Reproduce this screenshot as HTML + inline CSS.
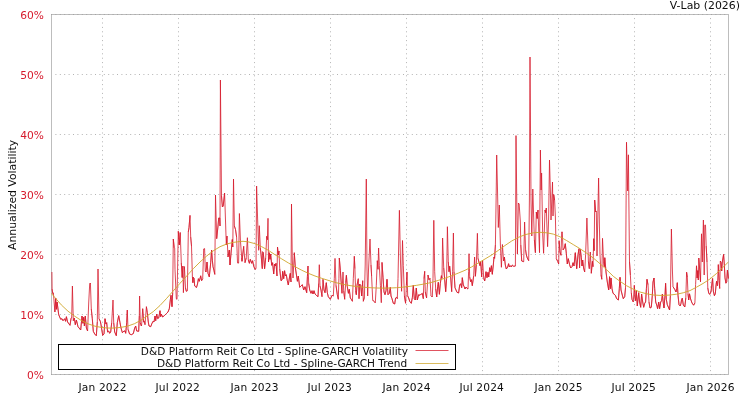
<!DOCTYPE html>
<html lang="en"><head><meta charset="utf-8"><title>V-Lab Spline-GARCH Volatility</title>
<style>html,body{margin:0;padding:0;background:#fff}svg{display:block;will-change:transform}text{font-family:"DejaVu Sans", "Liberation Sans", sans-serif;font-size:10.67px}</style></head><body>
<svg width="750" height="400" viewBox="0 0 750 400">
<rect x="0" y="0" width="750" height="400" fill="#ffffff"/>
<g stroke="#b4b4b4" stroke-width="1" stroke-dasharray="1 3.4" fill="none">
<line x1="51" y1="74.5" x2="728" y2="74.5"/>
<line x1="51" y1="134.5" x2="728" y2="134.5"/>
<line x1="51" y1="194.5" x2="728" y2="194.5"/>
<line x1="51" y1="254.5" x2="728" y2="254.5"/>
<line x1="51" y1="314.5" x2="728" y2="314.5"/>
<line x1="102.5" y1="18.1" x2="102.5" y2="374"/>
<line x1="178.5" y1="18.1" x2="178.5" y2="374"/>
<line x1="254.5" y1="18.1" x2="254.5" y2="374"/>
<line x1="330.5" y1="18.1" x2="330.5" y2="374"/>
<line x1="406.5" y1="18.1" x2="406.5" y2="374"/>
<line x1="482.5" y1="18.1" x2="482.5" y2="374"/>
<line x1="558.5" y1="18.1" x2="558.5" y2="374"/>
<line x1="634.5" y1="18.1" x2="634.5" y2="374"/>
<line x1="710.5" y1="18.1" x2="710.5" y2="374"/>
</g>
<rect x="51.5" y="14.5" width="677" height="360" fill="none" stroke="#bdbdbd" stroke-width="1" shape-rendering="crispEdges"/>
<g stroke="#a4a4a4" stroke-width="1" stroke-dasharray="1 3.4" fill="none"><line x1="51" y1="14.5" x2="728" y2="14.5"/><line x1="51" y1="374.5" x2="728" y2="374.5"/></g>
<clipPath id="c"><rect x="51" y="14" width="678" height="361"/></clipPath>
<g clip-path="url(#c)" fill="none" stroke-linejoin="bevel" stroke-linecap="butt">
<polyline stroke="#d6192b" stroke-width="0.8" points="51.9,272.0 52.1,289.0 52.7,293.5 53.4,293.0 54.9,312.0 55.7,298.0 56.4,309.3 57.1,302.0 58.7,314.7 60.7,319.3 62.0,318.7 63.0,320.7 64.7,318.7 65.6,321.3 66.4,316.7 67.6,322.0 70.0,325.3 71.0,318.7 71.7,317.3 72.4,286.0 73.3,320.7 74.3,318.0 75.3,324.7 76.4,320.0 78.0,326.7 80.7,330.0 82.0,316.0 82.9,323.3 83.7,317.3 84.4,326.0 85.3,316.0 86.4,328.0 87.6,331.0 88.7,303.0 89.7,284.0 90.4,283.0 91.3,309.0 92.3,318.7 93.3,331.3 94.7,334.0 96.3,335.7 97.3,322.0 98.0,269.0 99.0,318.7 100.3,321.3 101.0,324.7 102.7,335.3 104.0,334.0 105.0,318.7 106.0,324.0 106.7,322.7 107.6,332.0 108.7,331.0 109.6,333.3 110.7,332.0 111.7,322.7 113.0,300.0 113.7,322.7 114.7,332.0 116.3,335.7 117.3,322.7 118.7,315.7 120.0,322.7 121.0,328.0 122.4,332.7 124.0,331.0 125.0,331.0 125.7,333.3 126.7,322.7 127.3,310.0 128.0,329.3 129.6,334.0 131.3,334.7 133.3,333.6 134.7,328.0 135.7,326.0 136.7,331.0 138.7,331.3 139.3,316.0 139.6,296.0 140.3,322.7 141.3,326.0 141.6,325.3 142.7,308.7 143.6,322.0 144.4,321.3 145.0,324.7 146.4,306.7 147.3,312.7 148.3,322.0 149.0,326.0 150.7,326.7 152.0,323.3 153.0,321.3 154.0,322.0 155.0,316.0 155.7,320.7 156.7,314.0 157.7,318.7 158.7,318.0 160.0,310.7 160.7,316.7 161.3,314.0 162.7,317.0 164.7,315.3 166.7,313.3 168.0,312.0 169.3,308.7 170.4,299.3 171.0,295.3 172.0,306.7 172.7,292.7 173.3,239.0 174.2,247.5 174.7,248.0 175.0,269.3 176.3,298.7 177.0,299.3 178.3,231.3 179.3,245.0 180.2,232.5 181.3,263.0 182.2,277.5 182.9,266.0 183.4,292.7 184.4,266.5 185.5,288.0 186.3,291.3 187.4,290.7 188.3,232.0 189.0,227.5 190.0,215.4 190.7,237.0 191.5,246.0 192.4,276.5 192.9,282.7 193.3,277.3 194.0,278.0 194.7,286.0 196.5,287.5 197.5,284.0 198.4,278.7 199.3,281.3 200.7,275.8 201.6,280.7 202.7,278.7 203.7,249.0 204.6,248.7 205.3,271.0 206.0,272.0 207.0,262.0 208.0,273.3 209.3,276.9 210.7,262.7 211.6,250.0 212.4,260.7 213.0,266.7 214.0,270.7 214.8,274.4 215.5,195.0 216.7,238.7 218.0,226.0 218.7,218.0 219.7,218.0 220.0,226.0 220.4,80.0 221.5,196.0 222.4,207.0 223.2,206.0 224.6,193.0 226.3,245.0 227.0,236.0 228.0,257.0 229.3,250.0 230.0,265.0 231.3,250.0 232.3,239.5 232.8,247.0 233.5,179.0 234.4,226.0 235.5,229.5 236.6,237.0 237.5,262.8 238.6,263.0 239.4,213.5 240.4,240.0 241.7,258.0 242.0,261.3 243.7,246.3 245.0,262.7 246.2,258.0 247.4,237.7 248.3,260.0 249.4,263.3 250.3,259.3 251.7,263.3 252.6,260.7 253.7,266.0 255.0,269.3 256.0,268.7 256.6,186.0 257.8,225.0 258.7,250.3 259.3,225.7 260.3,247.7 261.0,254.0 262.3,268.7 262.6,251.7 263.3,252.7 264.6,268.7 265.7,258.0 266.7,236.3 267.4,239.7 268.0,218.3 268.5,262.0 269.3,252.7 270.0,259.3 270.7,254.0 271.7,265.3 272.6,262.7 273.7,274.0 274.6,264.0 275.4,266.0 276.0,263.3 277.0,276.0 277.5,247.0 278.3,255.0 279.0,251.0 279.7,268.7 281.0,280.7 282.0,280.0 282.7,271.3 283.7,278.7 284.6,270.7 285.4,276.0 286.3,274.7 287.3,280.7 288.3,285.0 289.7,276.0 290.3,273.3 291.0,282.0 291.5,204.0 292.3,260.0 293.0,278.0 294.3,252.7 295.3,267.3 296.3,274.0 297.4,281.3 298.3,276.0 299.7,287.3 301.0,286.0 302.3,284.7 303.7,290.0 305.0,286.7 306.7,292.7 307.4,276.7 308.0,266.0 308.7,283.3 309.7,290.0 311.0,293.3 312.0,290.7 313.0,294.0 314.0,290.7 315.0,294.0 316.3,295.3 318.0,296.7 318.7,283.3 319.3,264.7 320.0,286.0 321.0,290.0 322.0,296.7 323.0,279.3 324.0,290.0 325.0,292.7 326.3,282.7 327.3,292.7 328.3,296.7 330.3,299.3 332.0,295.3 333.3,296.0 334.3,278.7 335.0,258.4 336.0,285.3 337.3,294.7 338.3,299.3 338.9,278.7 339.3,258.0 340.4,270.7 341.0,280.0 342.0,293.3 343.0,272.0 343.7,290.7 344.7,299.3 345.7,282.7 346.4,275.3 347.3,286.7 348.4,293.3 349.3,289.3 350.3,298.0 351.3,299.3 352.4,301.3 353.3,278.7 354.3,256.3 354.9,268.7 355.6,290.7 356.3,294.7 357.0,285.3 358.3,278.7 359.0,298.7 359.6,284.0 360.7,285.3 361.7,296.0 362.7,280.7 363.3,301.3 364.4,297.3 365.2,265.0 366.3,179.0 367.0,270.0 367.7,296.0 368.5,270.0 370.0,239.0 371.0,265.0 371.6,276.0 372.7,300.0 373.7,301.3 374.7,302.0 375.3,302.7 376.3,285.3 377.3,260.7 378.0,269.3 378.6,248.0 379.3,265.3 380.4,285.3 381.3,302.7 382.0,262.4 383.0,277.3 384.0,292.0 385.0,294.7 386.0,290.7 387.0,279.3 388.0,294.7 389.3,293.3 390.3,287.3 391.0,296.0 392.0,298.7 393.3,303.3 394.7,304.0 395.6,298.0 396.7,297.3 397.3,298.7 398.0,278.7 399.4,210.3 400.5,262.0 401.6,291.3 402.5,240.5 403.3,265.3 404.4,296.0 405.6,303.3 406.4,285.3 407.0,272.0 407.7,296.0 408.7,298.0 409.7,301.3 411.3,303.3 412.4,297.3 413.3,285.3 414.3,298.7 415.3,300.0 416.3,288.0 417.3,300.0 418.7,294.7 420.0,295.3 421.3,294.0 422.3,293.3 423.3,298.7 424.0,278.7 424.7,271.3 425.3,292.0 426.6,298.0 428.0,275.0 429.0,279.7 430.0,278.3 431.0,295.7 432.3,297.0 433.0,278.3 433.8,220.3 434.7,271.7 435.7,289.0 436.7,297.0 437.7,286.3 438.3,282.3 439.4,294.3 440.3,283.7 441.4,275.7 442.0,278.3 442.6,238.0 443.7,267.7 444.7,279.7 445.7,291.7 446.6,278.3 447.4,226.7 448.3,261.7 449.0,271.7 449.7,266.3 450.6,275.7 451.7,291.7 452.6,271.7 453.4,233.0 454.0,271.7 455.0,287.7 457.0,292.3 458.6,293.0 459.7,285.0 460.7,283.7 461.7,287.7 462.3,277.7 463.3,285.0 464.0,286.3 465.0,289.0 466.0,287.0 467.0,288.3 468.0,289.0 468.6,271.7 469.0,253.7 469.7,277.0 470.6,281.7 471.4,279.7 472.3,285.7 473.7,275.7 474.6,257.0 475.4,276.3 476.3,265.0 477.4,233.3 478.0,258.3 479.0,262.3 480.0,265.7 480.7,261.7 481.7,277.0 482.6,260.3 483.7,278.3 484.7,281.0 486.0,271.7 487.0,277.7 488.0,272.3 488.7,277.0 489.7,267.7 490.6,271.7 491.4,265.7 492.3,274.3 493.3,265.0 494.0,257.0 494.6,258.3 495.4,245.0 496.1,200.0 496.7,155.0 497.5,190.0 498.3,227.5 499.3,205.0 500.4,245.0 501.4,267.3 502.4,244.5 503.6,261.0 504.4,257.0 505.3,265.0 506.3,269.0 507.7,267.0 508.6,263.7 509.4,267.0 510.3,265.7 511.4,267.0 512.3,265.0 513.7,266.3 515.4,266.0 516.0,135.6 517.4,254.0 518.4,203.0 519.2,204.5 520.3,221.0 520.8,245.0 521.7,261.0 523.7,261.7 524.6,222.0 525.6,250.0 526.3,254.7 527.3,258.0 528.7,260.7 529.4,200.0 530.0,57.0 531.0,200.0 531.8,236.0 532.8,189.0 533.6,215.0 534.4,240.0 535.4,252.7 536.3,212.0 537.2,218.5 538.0,210.0 539.5,252.7 540.4,150.0 541.1,190.0 541.6,173.0 542.7,235.0 543.6,253.3 545.0,210.0 545.7,212.7 546.3,208.0 547.6,246.7 548.6,220.0 549.5,160.0 550.6,200.0 551.0,220.0 552.5,182.0 553.0,216.0 553.7,194.5 554.6,200.0 555.4,217.0 556.3,258.7 557.7,261.3 558.7,264.0 559.1,240.7 560.0,252.0 561.0,255.3 561.7,232.0 562.3,232.0 563.0,250.0 564.3,248.0 565.3,243.7 566.3,253.3 567.3,264.0 568.3,258.7 569.6,264.7 570.7,268.0 572.0,266.7 573.0,262.7 574.0,266.0 575.3,252.7 576.7,268.7 578.0,254.7 579.0,248.7 579.6,268.0 580.3,249.3 581.3,257.3 582.0,266.0 582.7,260.0 583.6,268.0 584.7,272.0 585.6,254.7 586.9,218.0 587.6,236.0 588.4,261.3 589.3,268.7 590.3,252.0 591.3,273.3 592.4,261.3 593.0,266.7 593.7,238.7 594.2,250.7 594.7,200.0 595.7,212.0 596.3,211.3 597.0,256.0 598.6,178.0 599.4,225.0 600.0,254.7 601.0,274.7 601.8,279.3 602.5,238.3 603.6,261.3 604.3,266.7 604.8,257.7 606.0,272.0 607.3,282.0 608.7,290.0 609.6,276.7 610.4,288.7 611.0,278.0 612.0,288.7 613.0,293.3 614.0,294.0 615.3,295.3 616.7,298.7 618.4,300.0 619.3,288.7 620.0,277.3 621.0,290.0 622.0,294.0 623.3,298.7 624.7,296.7 625.5,288.0 626.5,142.2 627.7,191.0 628.4,154.8 629.5,262.0 630.4,275.3 631.3,292.7 632.0,299.3 633.3,302.0 634.3,285.3 635.0,298.0 635.6,300.7 636.3,290.7 637.3,306.0 638.7,292.7 639.6,302.0 640.7,307.3 641.6,294.0 642.7,302.0 643.7,307.3 644.7,303.3 645.6,302.0 646.4,288.7 647.0,279.3 648.0,284.7 649.0,302.0 650.0,308.0 651.3,307.3 652.3,295.3 653.0,282.0 654.0,278.0 654.7,288.7 655.7,302.0 657.0,306.0 657.6,308.7 658.7,302.0 659.6,308.7 660.7,302.0 661.6,300.7 662.4,294.0 663.3,303.3 664.0,308.0 665.0,295.3 665.6,283.3 666.3,299.3 667.3,304.7 668.7,308.0 669.6,310.0 670.4,295.3 671.4,229.0 672.4,270.0 673.0,286.7 674.7,289.3 676.0,292.0 676.7,288.7 677.3,282.7 678.0,295.3 679.0,304.7 680.2,306.0 681.0,303.3 681.6,299.3 682.3,298.2 683.3,305.0 684.8,307.0 685.8,298.0 686.6,272.2 687.3,277.0 688.0,294.0 688.7,300.0 689.5,293.8 690.6,299.0 692.0,303.0 693.6,305.2 694.9,303.0 695.6,284.5 696.5,265.8 697.2,278.0 697.8,270.6 698.3,280.0 698.8,258.0 699.8,271.0 700.5,281.8 701.5,233.8 702.3,262.0 703.4,220.0 704.2,275.0 704.8,225.2 705.5,225.2 706.2,246.0 707.0,262.0 707.8,288.0 708.7,293.0 709.7,294.4 711.0,291.8 712.1,281.8 712.6,278.5 713.3,291.0 714.4,295.7 715.3,293.8 716.1,284.5 716.6,281.2 717.4,285.8 718.3,264.6 719.0,280.5 719.7,288.5 720.3,261.0 721.0,262.5 721.7,271.0 722.3,262.0 723.6,254.4 724.4,266.0 725.0,277.9 725.9,283.2 726.7,281.8 727.4,270.0 727.9,273.9 728.4,278.5"/>
<path stroke="#d6192b" stroke-width="0.6" d="M52.1 289.0L52.7 293.5L53.4 293.0M54.9 312.0L55.7 298.0L56.4 309.3L57.1 302.0L58.7 314.7L60.7 319.3L62.0 318.7L63.0 320.7L64.7 318.7L65.6 321.3L66.4 316.7L67.6 322.0L70.0 325.3L71.0 318.7L71.7 317.3M73.3 320.7L74.3 318.0L75.3 324.7L76.4 320.0L78.0 326.7L80.7 330.0L82.0 316.0L82.9 323.3L83.7 317.3L84.4 326.0L85.3 316.0L86.4 328.0L87.6 331.0M89.7 284.0L90.4 283.0M91.3 309.0L92.3 318.7L93.3 331.3L94.7 334.0L96.3 335.7L97.3 322.0M99.0 318.7L100.3 321.3L101.0 324.7L102.7 335.3L104.0 334.0L105.0 318.7L106.0 324.0L106.7 322.7L107.6 332.0L108.7 331.0L109.6 333.3L110.7 332.0L111.7 322.7M113.7 322.7L114.7 332.0L116.3 335.7L117.3 322.7L118.7 315.7L120.0 322.7L121.0 328.0L122.4 332.7L124.0 331.0L125.0 331.0L125.7 333.3L126.7 322.7L127.3 310.0M128.0 329.3L129.6 334.0L131.3 334.7L133.3 333.6L134.7 328.0L135.7 326.0L136.7 331.0L138.7 331.3L139.3 316.0M140.3 322.7L141.3 326.0L141.6 325.3M142.7 308.7L143.6 322.0L144.4 321.3L145.0 324.7M146.4 306.7L147.3 312.7L148.3 322.0L149.0 326.0L150.7 326.7L152.0 323.3L153.0 321.3L154.0 322.0L155.0 316.0L155.7 320.7L156.7 314.0L157.7 318.7L158.7 318.0L160.0 310.7L160.7 316.7L161.3 314.0L162.7 317.0L164.7 315.3L166.7 313.3L168.0 312.0L169.3 308.7L170.4 299.3L171.0 295.3L172.0 306.7L172.7 292.7M173.3 239.0L174.2 247.5L174.7 248.0M176.3 298.7L177.0 299.3M178.3 231.3L179.3 245.0L180.2 232.5M181.3 263.0L182.2 277.5L182.9 266.0M185.5 288.0L186.3 291.3L187.4 290.7M188.3 232.0L189.0 227.5L190.0 215.4M190.7 237.0L191.5 246.0M192.4 276.5L192.9 282.7L193.3 277.3L194.0 278.0L194.7 286.0L196.5 287.5L197.5 284.0L198.4 278.7L199.3 281.3L200.7 275.8L201.6 280.7L202.7 278.7M203.7 249.0L204.6 248.7M205.3 271.0L206.0 272.0L207.0 262.0L208.0 273.3L209.3 276.9L210.7 262.7L211.6 250.0L212.4 260.7L213.0 266.7L214.0 270.7L214.8 274.4M216.7 238.7L218.0 226.0L218.7 218.0L219.7 218.0L220.0 226.0M221.5 196.0L222.4 207.0L223.2 206.0L224.6 193.0M226.3 245.0L227.0 236.0M228.0 257.0L229.3 250.0L230.0 265.0L231.3 250.0L232.3 239.5L232.8 247.0M234.4 226.0L235.5 229.5L236.6 237.0M237.5 262.8L238.6 263.0M241.7 258.0L242.0 261.3L243.7 246.3M245.0 262.7L246.2 258.0M248.3 260.0L249.4 263.3L250.3 259.3L251.7 263.3L252.6 260.7L253.7 266.0L255.0 269.3L256.0 268.7M260.3 247.7L261.0 254.0L262.3 268.7M262.6 251.7L263.3 252.7L264.6 268.7L265.7 258.0M266.7 236.3L267.4 239.7M268.5 262.0L269.3 252.7L270.0 259.3L270.7 254.0L271.7 265.3L272.6 262.7L273.7 274.0L274.6 264.0L275.4 266.0L276.0 263.3L277.0 276.0M277.5 247.0L278.3 255.0L279.0 251.0M279.7 268.7L281.0 280.7L282.0 280.0L282.7 271.3L283.7 278.7L284.6 270.7L285.4 276.0L286.3 274.7L287.3 280.7L288.3 285.0L289.7 276.0L290.3 273.3L291.0 282.0M294.3 252.7L295.3 267.3L296.3 274.0L297.4 281.3L298.3 276.0L299.7 287.3L301.0 286.0L302.3 284.7L303.7 290.0L305.0 286.7L306.7 292.7L307.4 276.7L308.0 266.0M308.7 283.3L309.7 290.0L311.0 293.3L312.0 290.7L313.0 294.0L314.0 290.7L315.0 294.0L316.3 295.3L318.0 296.7L318.7 283.3M320.0 286.0L321.0 290.0L322.0 296.7M323.0 279.3L324.0 290.0L325.0 292.7L326.3 282.7L327.3 292.7L328.3 296.7L330.3 299.3L332.0 295.3L333.3 296.0M336.0 285.3L337.3 294.7L338.3 299.3M339.3 258.0L340.4 270.7L341.0 280.0L342.0 293.3M343.7 290.7L344.7 299.3M345.7 282.7L346.4 275.3L347.3 286.7L348.4 293.3L349.3 289.3L350.3 298.0L351.3 299.3L352.4 301.3M354.3 256.3L354.9 268.7M355.6 290.7L356.3 294.7L357.0 285.3L358.3 278.7M359.0 298.7L359.6 284.0L360.7 285.3L361.7 296.0L362.7 280.7M363.3 301.3L364.4 297.3M371.0 265.0L371.6 276.0M372.7 300.0L373.7 301.3L374.7 302.0L375.3 302.7M377.3 260.7L378.0 269.3M382.0 262.4L383.0 277.3L384.0 292.0L385.0 294.7L386.0 290.7L387.0 279.3L388.0 294.7L389.3 293.3L390.3 287.3L391.0 296.0L392.0 298.7L393.3 303.3L394.7 304.0L395.6 298.0L396.7 297.3L397.3 298.7M404.4 296.0L405.6 303.3M406.4 285.3L407.0 272.0M407.7 296.0L408.7 298.0L409.7 301.3L411.3 303.3L412.4 297.3L413.3 285.3L414.3 298.7L415.3 300.0L416.3 288.0L417.3 300.0L418.7 294.7L420.0 295.3L421.3 294.0L422.3 293.3L423.3 298.7M424.0 278.7L424.7 271.3M425.3 292.0L426.6 298.0M428.0 275.0L429.0 279.7L430.0 278.3M431.0 295.7L432.3 297.0M435.7 289.0L436.7 297.0L437.7 286.3L438.3 282.3L439.4 294.3L440.3 283.7L441.4 275.7L442.0 278.3M443.7 267.7L444.7 279.7L445.7 291.7L446.6 278.3M448.3 261.7L449.0 271.7L449.7 266.3L450.6 275.7L451.7 291.7M454.0 271.7L455.0 287.7L457.0 292.3L458.6 293.0L459.7 285.0L460.7 283.7L461.7 287.7L462.3 277.7L463.3 285.0L464.0 286.3L465.0 289.0L466.0 287.0L467.0 288.3L468.0 289.0M469.7 277.0L470.6 281.7L471.4 279.7L472.3 285.7L473.7 275.7M475.4 276.3L476.3 265.0M478.0 258.3L479.0 262.3L480.0 265.7L480.7 261.7L481.7 277.0M483.7 278.3L484.7 281.0L486.0 271.7L487.0 277.7L488.0 272.3L488.7 277.0L489.7 267.7L490.6 271.7L491.4 265.7L492.3 274.3L493.3 265.0L494.0 257.0L494.6 258.3L495.4 245.0M503.6 261.0L504.4 257.0L505.3 265.0L506.3 269.0L507.7 267.0L508.6 263.7L509.4 267.0L510.3 265.7L511.4 267.0L512.3 265.0L513.7 266.3L515.4 266.0M518.4 203.0L519.2 204.5M520.8 245.0L521.7 261.0L523.7 261.7M525.6 250.0L526.3 254.7L527.3 258.0L528.7 260.7M534.4 240.0L535.4 252.7M536.3 212.0L537.2 218.5L538.0 210.0M545.0 210.0L545.7 212.7L546.3 208.0M553.7 194.5L554.6 200.0M556.3 258.7L557.7 261.3L558.7 264.0M559.1 240.7L560.0 252.0L561.0 255.3M561.7 232.0L562.3 232.0M563.0 250.0L564.3 248.0L565.3 243.7L566.3 253.3L567.3 264.0L568.3 258.7L569.6 264.7L570.7 268.0L572.0 266.7L573.0 262.7L574.0 266.0L575.3 252.7L576.7 268.7L578.0 254.7L579.0 248.7M580.3 249.3L581.3 257.3L582.0 266.0L582.7 260.0L583.6 268.0L584.7 272.0M588.4 261.3L589.3 268.7M591.3 273.3L592.4 261.3L593.0 266.7M593.7 238.7L594.2 250.7M594.7 200.0L595.7 212.0L596.3 211.3M601.0 274.7L601.8 279.3M603.6 261.3L604.3 266.7L604.8 257.7L606.0 272.0L607.3 282.0L608.7 290.0L609.6 276.7L610.4 288.7L611.0 278.0L612.0 288.7L613.0 293.3L614.0 294.0L615.3 295.3L616.7 298.7L618.4 300.0L619.3 288.7L620.0 277.3L621.0 290.0L622.0 294.0L623.3 298.7L624.7 296.7L625.5 288.0M629.5 262.0L630.4 275.3M631.3 292.7L632.0 299.3L633.3 302.0M634.3 285.3L635.0 298.0L635.6 300.7L636.3 290.7L637.3 306.0L638.7 292.7L639.6 302.0L640.7 307.3L641.6 294.0L642.7 302.0L643.7 307.3L644.7 303.3L645.6 302.0L646.4 288.7L647.0 279.3L648.0 284.7M649.0 302.0L650.0 308.0L651.3 307.3L652.3 295.3L653.0 282.0L654.0 278.0L654.7 288.7L655.7 302.0L657.0 306.0L657.6 308.7L658.7 302.0L659.6 308.7L660.7 302.0L661.6 300.7L662.4 294.0L663.3 303.3L664.0 308.0L665.0 295.3L665.6 283.3L666.3 299.3L667.3 304.7L668.7 308.0L669.6 310.0L670.4 295.3M673.0 286.7L674.7 289.3L676.0 292.0L676.7 288.7L677.3 282.7L678.0 295.3L679.0 304.7L680.2 306.0L681.0 303.3L681.6 299.3L682.3 298.2L683.3 305.0L684.8 307.0L685.8 298.0M686.6 272.2L687.3 277.0M688.0 294.0L688.7 300.0L689.5 293.8L690.6 299.0L692.0 303.0L693.6 305.2L694.9 303.0M696.5 265.8L697.2 278.0L697.8 270.6L698.3 280.0M698.8 258.0L699.8 271.0L700.5 281.8M704.8 225.2L705.5 225.2M706.2 246.0L707.0 262.0M707.8 288.0L708.7 293.0L709.7 294.4L711.0 291.8L712.1 281.8L712.6 278.5L713.3 291.0L714.4 295.7L715.3 293.8L716.1 284.5L716.6 281.2L717.4 285.8M718.3 264.6L719.0 280.5L719.7 288.5M720.3 261.0L721.0 262.5L721.7 271.0L722.3 262.0L723.6 254.4L724.4 266.0L725.0 277.9L725.9 283.2L726.7 281.8L727.4 270.0L727.9 273.9L728.4 278.5"/>
<polyline stroke="#cfa62a" stroke-width="0.9" points="51.3,293.4 56.0,298.8 61.3,304.9 68.0,311.2 74.7,316.2 81.0,320.3 88.0,323.8 95.0,326.2 101.3,327.4 107.0,328.0 112.0,328.1 118.0,327.7 123.0,327.0 128.0,326.0 134.7,323.6 141.3,320.0 148.0,315.3 153.3,311.6 160.0,305.5 166.7,298.3 173.0,291.2 180.0,283.3 186.7,276.0 193.3,268.7 200.0,262.0 206.7,256.0 213.0,251.0 220.0,246.7 226.7,244.0 233.3,242.4 240.0,241.5 243.0,241.3 248.0,241.8 255.0,243.7 261.7,246.7 268.3,250.3 275.0,254.7 281.7,258.9 288.3,262.9 295.0,266.7 301.7,270.2 308.3,273.3 315.0,276.0 321.7,278.3 330.0,280.9 336.7,282.8 343.3,284.4 350.0,285.6 356.7,286.5 363.3,287.2 370.0,287.7 376.7,288.0 383.3,288.1 390.0,288.0 396.7,287.7 403.3,287.1 410.0,286.3 416.7,285.3 423.0,284.2 430.0,282.8 438.3,280.4 445.0,278.2 451.7,275.7 458.3,273.1 465.0,270.3 471.7,266.9 478.3,263.0 485.0,259.0 491.7,255.0 498.3,250.4 505.0,245.5 511.7,241.0 518.3,237.4 525.0,234.7 533.3,232.8 540.0,232.3 546.7,232.8 553.3,234.1 560.0,236.8 566.7,240.6 573.3,244.6 580.0,248.7 586.7,253.2 593.3,258.0 600.0,263.7 606.7,269.8 613.3,276.3 620.0,281.3 626.7,285.8 633.3,289.2 640.0,292.0 646.7,293.8 653.3,295.0 660.0,295.4 664.0,295.4 670.0,295.0 676.7,294.2 683.2,292.8 690.0,290.6 696.5,287.2 703.0,283.5 709.7,279.2 716.3,273.7 723.0,267.3 728.4,262.0"/>
</g>
<rect x="58.5" y="344.5" width="397" height="25" fill="#ffffff" stroke="#000000" stroke-width="1" shape-rendering="crispEdges"/>
<text x="408" y="355" text-anchor="end" fill="#0d0d0d" textLength="267.2" lengthAdjust="spacingAndGlyphs">D&amp;D Platform Reit Co Ltd - Spline-GARCH Volatility</text>
<text x="407.2" y="367" text-anchor="end" fill="#0d0d0d" textLength="250.3" lengthAdjust="spacingAndGlyphs">D&amp;D Platform Reit Co Ltd - Spline-GARCH Trend</text>
<line x1="415.5" y1="350.5" x2="448.5" y2="350.5" stroke="#d6192b" stroke-width="0.75"/>
<line x1="415.5" y1="363.5" x2="448.5" y2="363.5" stroke="#cfa62a" stroke-width="0.75"/>
<text x="44" y="18.6" text-anchor="end" fill="#d6192b">60%</text>
<text x="44" y="78.6" text-anchor="end" fill="#d6192b">50%</text>
<text x="44" y="138.6" text-anchor="end" fill="#d6192b">40%</text>
<text x="44" y="198.6" text-anchor="end" fill="#d6192b">30%</text>
<text x="44" y="258.6" text-anchor="end" fill="#d6192b">20%</text>
<text x="44" y="318.6" text-anchor="end" fill="#d6192b">10%</text>
<text x="44" y="378.6" text-anchor="end" fill="#d6192b">0%</text>
<text x="102.6" y="390.6" text-anchor="middle" fill="#0d0d0d" letter-spacing="0.13">Jan 2022</text>
<text x="177.8" y="390.6" text-anchor="middle" fill="#0d0d0d" letter-spacing="0.13">Jul 2022</text>
<text x="254.6" y="390.6" text-anchor="middle" fill="#0d0d0d" letter-spacing="0.13">Jan 2023</text>
<text x="329.8" y="390.6" text-anchor="middle" fill="#0d0d0d" letter-spacing="0.13">Jul 2023</text>
<text x="406.6" y="390.6" text-anchor="middle" fill="#0d0d0d" letter-spacing="0.13">Jan 2024</text>
<text x="481.8" y="390.6" text-anchor="middle" fill="#0d0d0d" letter-spacing="0.13">Jul 2024</text>
<text x="558.6" y="390.6" text-anchor="middle" fill="#0d0d0d" letter-spacing="0.13">Jan 2025</text>
<text x="633.8" y="390.6" text-anchor="middle" fill="#0d0d0d" letter-spacing="0.13">Jul 2025</text>
<text x="710.6" y="390.6" text-anchor="middle" fill="#0d0d0d" letter-spacing="0.13">Jan 2026</text>
<text x="740" y="8.6" text-anchor="end" fill="#0d0d0d" textLength="70.2" lengthAdjust="spacingAndGlyphs">V-Lab (2026)</text>
<text transform="translate(15.6,194.9) rotate(-90)" text-anchor="middle" fill="#0d0d0d" textLength="110" lengthAdjust="spacingAndGlyphs">Annualized Volatility</text>
</svg></body></html>
